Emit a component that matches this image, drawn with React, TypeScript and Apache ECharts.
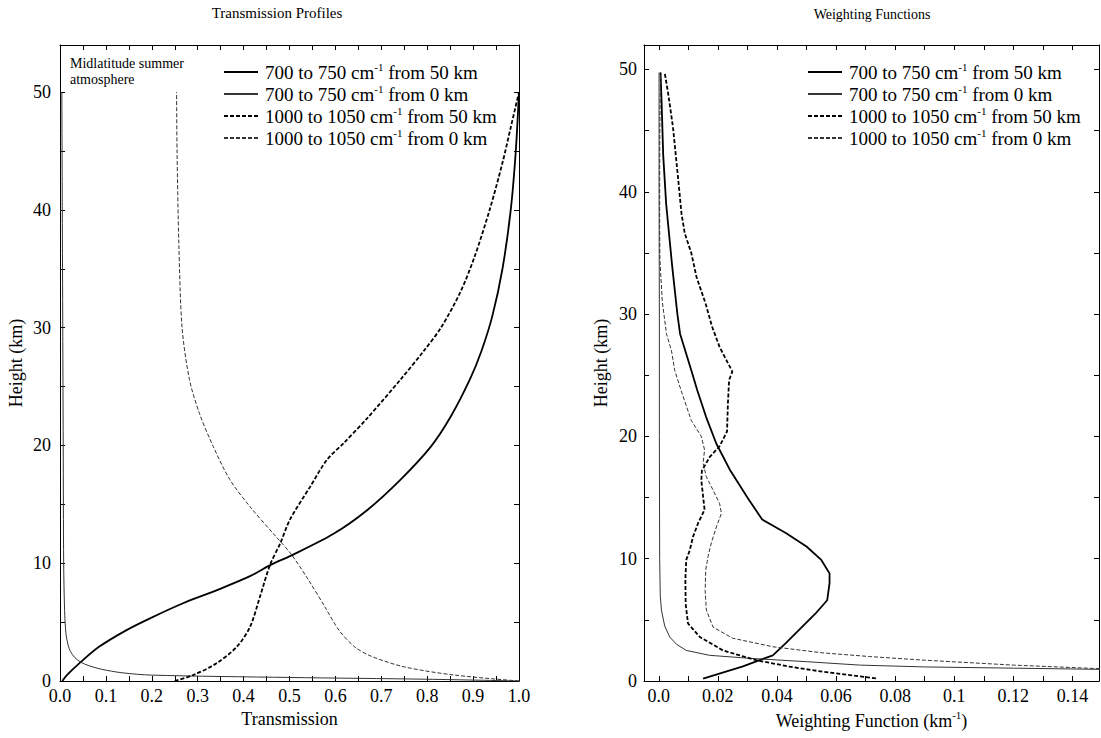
import React, { useEffect, useRef } from "react";
import * as echarts from "echarts";

const FONT = "'Liberation Serif', 'Times New Roman', Times, serif";

const seriesNames = [
  "700 to 750 cm-1 from 50 km",
  "700 to 750 cm-1 from 0 km",
  "1000 to 1050 cm-1 from 50 km",
  "1000 to 1050 cm-1 from 0 km",
];

// ---- Transmission profiles (left) ----
const tH1 = [0, 0.5, 1.5, 2.9, 4.3, 5.3, 6.6, 7.7, 8.9, 9.9, 10.6, 12.5, 14.5, 17.1, 19.9, 22.5, 25.6, 28, 31, 35, 40, 45, 50];
const tT1 = [0.005, 0.015, 0.042, 0.085, 0.144, 0.195, 0.268, 0.341, 0.414, 0.461, 0.501, 0.596, 0.669, 0.742, 0.808, 0.852, 0.893, 0.918, 0.942, 0.964, 0.982, 0.993, 1.0];

const tH2 = [0, 0.15, 0.3, 0.5, 0.7, 1.0, 1.3, 1.6, 2.0, 2.5, 3, 4, 6, 10, 20, 30, 40, 50];
const tT2 = [1.0, 0.8, 0.5, 0.2, 0.135, 0.09, 0.063, 0.045, 0.032, 0.023, 0.018, 0.013, 0.01, 0.008, 0.007, 0.006, 0.005, 0.004];

const tH3 = [0, 0.5, 1.5, 2.9, 4.6, 7.2, 9.9, 11.7, 13.7, 16.5, 18.8, 20.2, 22.3, 25.6, 28, 30, 33, 36, 40, 44, 47, 50];
const tT3 = [0.25, 0.29, 0.341, 0.385, 0.414, 0.436, 0.458, 0.48, 0.501, 0.545, 0.582, 0.618, 0.669, 0.742, 0.792, 0.83, 0.872, 0.903, 0.936, 0.964, 0.982, 1.0];

const tH4 = [0, 0.5, 1.2, 2.1, 2.9, 4.3, 6.3, 8.6, 10.8, 12.5, 14.8, 17.1, 19.9, 22.7, 25.6, 30, 37, 45, 50];
const tT4 = [1.0, 0.86, 0.75, 0.678, 0.642, 0.608, 0.577, 0.541, 0.503, 0.465, 0.414, 0.37, 0.334, 0.304, 0.282, 0.266, 0.259, 0.255, 0.254];

// ---- Weighting functions (right) ----
const wH1 = [0.2, 1.2, 2.1, 3.1, 4.3, 5.5, 6.6, 8.0, 8.8, 9.9, 11.0, 12.1, 13.2, 15.0, 17.3, 19.4, 21.6, 23.8, 25.4, 28.4, 30, 34, 39, 43, 47, 49.75];
const wW1 = [0.015, 0.0285, 0.0386, 0.043, 0.048, 0.053, 0.057, 0.0578, 0.0578, 0.055, 0.05, 0.043, 0.035, 0.03, 0.024, 0.0195, 0.016, 0.013, 0.011, 0.0072, 0.0063, 0.0045, 0.0025, 0.0015, 0.001, 0.0006];

const wH2 = [0.8, 0.95, 1.05, 1.15, 1.3, 1.58, 1.85, 2.1, 2.5, 3.0, 3.6, 4.5, 5.8, 7, 10, 20, 30, 40, 49.75];
const wW2 = [0.2, 0.15, 0.12, 0.09, 0.068, 0.05, 0.031, 0.0172, 0.0093, 0.006, 0.0037, 0.002, 0.0009, 0.0005, 0.0003, 0.0002, 0.0002, 0.0001, 0.0001];

const wH3 = [0.22, 0.76, 1.17, 1.7, 2.5, 3.6, 4.7, 6.3, 8.3, 9.9, 10.7, 11.8, 12.9, 14.0, 15.1, 16.4, 17.2, 18.3, 19.2, 20.4, 22.7, 24.6, 25.3, 27.3, 29, 30.9, 33, 35, 36.6, 38.2, 41.2, 45.3, 48, 49.75];
const wW3 = [0.0735, 0.0555, 0.0443, 0.033, 0.0217, 0.0139, 0.0099, 0.0091, 0.009, 0.0093, 0.0105, 0.0116, 0.0133, 0.0155, 0.015, 0.0144, 0.0146, 0.0172, 0.0206, 0.0231, 0.0234, 0.0238, 0.0249, 0.0206, 0.018, 0.0158, 0.0128, 0.011, 0.0088, 0.0077, 0.0065, 0.0048, 0.0032, 0.002];

const wH4 = [0.8, 1.0, 1.3, 1.7, 2.0, 2.3, 2.8, 3.5, 4.4, 5.8, 7.4, 9.1, 10.2, 11.3, 12.6, 13.7, 14.5, 15.6, 16.7, 17.8, 18.9, 20, 21.3, 23.8, 25.4, 27, 28.4, 31, 34.4, 37, 42, 46, 49.75];
const wW4 = [0.2, 0.15, 0.12, 0.09, 0.0713, 0.0555, 0.0386, 0.025, 0.0184, 0.0161, 0.0157, 0.0159, 0.0167, 0.0178, 0.0195, 0.0212, 0.0206, 0.0184, 0.0161, 0.015, 0.0155, 0.0144, 0.011, 0.0075, 0.0054, 0.0043, 0.0026, 0.0012, 0.0004, 0.0003, 0.0003, 0.0004, 0.0006];

// tick values
const rightXLabelValues = [0, 0.02, 0.04, 0.06, 0.08, 0.1, 0.12, 0.14];
const rightXTickValues = [0, 0.01, 0.02, 0.03, 0.04, 0.05, 0.06, 0.07, 0.08, 0.09, 0.1, 0.11, 0.12, 0.13, 0.14];

const zip = (xs: number[], ys: number[]) => xs.map((x, i) => [x, ys[i]]);

const lineStyles = [
  { width: 1.8, type: "solid" as const, color: "#000" },
  { width: 1, type: "solid" as const, color: "#333" },
  { width: 1.8, type: [4, 2], color: "#000" },
  { width: 1, type: [4, 2], color: "#333" },
];

export default function App() {
  const ref = useRef<HTMLDivElement>(null);
  useEffect(() => {
    if (!ref.current) return;
    const chart = echarts.init(ref.current, undefined, { renderer: "svg" });
    const axisLineStyle = { lineStyle: { color: "#000", width: 1 } };
    const tickStyle = { inside: true, length: 5, lineStyle: { color: "#000", width: 1 } };
    const labelStyle = { color: "#000", fontSize: 18, fontFamily: FONT };
    const nameStyle = { color: "#000", fontSize: 18, fontFamily: FONT };
    const supStyle = { fontSize: 11, lineHeight: 12, verticalAlign: "top", fontFamily: FONT, color: "#000" };
    const legendText = {
      color: "#000",
      fontSize: 19,
      fontFamily: FONT,
      lineHeight: 22,
      padding: [0, 0, 0, 2],
      rich: { sup: supStyle },
    };
    const fmtLegend = (n: string) => n.replace("cm-1", "cm{sup|-1}");
    const hiddenSymbol = { color: "rgba(0,0,0,0)", borderColor: "rgba(0,0,0,0)", borderWidth: 0, opacity: 0 };

    const leftData = [zip(tT1, tH1), zip(tT2, tH2), zip(tT3, tH3), zip(tT4, tH4)];
    const rightData = [zip(wW1, wH1), zip(wW2, wH2), zip(wW3, wH3), zip(wW4, wH4)];

    const series: any[] = [];
    leftData.forEach((d, i) =>
      series.push({
        type: "line",
        name: seriesNames[i],
        xAxisIndex: 0,
        yAxisIndex: 0,
        data: d,
        symbol: "none",
        smooth: 0.3,
        lineStyle: lineStyles[i],
        itemStyle: { color: lineStyles[i].color },
        clip: true,
      })
    );
    rightData.forEach((d, i) =>
      series.push({
        type: "line",
        name: seriesNames[i],
        xAxisIndex: 2,
        yAxisIndex: 2,
        data: d,
        symbol: "none",
        lineStyle: lineStyles[i],
        itemStyle: { color: lineStyles[i].color },
        clip: true,
      })
    );

    chart.setOption({
      animation: false,
      backgroundColor: "#fff",
      grid: [
        { left: 60, top: 45, width: 459, height: 636 },
        { left: 644, top: 45, width: 455, height: 636 },
      ],
      xAxis: [
        {
          type: "value", gridIndex: 0, position: "bottom", min: 0, max: 1, interval: 0.05,
          axisLine: { onZero: false, ...axisLineStyle }, axisTick: tickStyle, splitLine: { show: false },
          axisLabel: { ...labelStyle, margin: 6, formatter: (v: number) => (Math.abs(Math.round(v * 100)) % 10 === 0 ? v.toFixed(1) : "") },
          name: "Transmission", nameLocation: "middle", nameGap: 25, nameTextStyle: nameStyle,
        },
        {
          type: "value", gridIndex: 0, position: "top", min: 0, max: 1, interval: 0.05,
          axisLine: { onZero: false, ...axisLineStyle }, axisTick: tickStyle, splitLine: { show: false }, axisLabel: { show: false },
        },
        {
          type: "value", gridIndex: 1, position: "bottom", min: -0.005, max: 0.149,
          axisLine: { onZero: false, ...axisLineStyle },
          axisTick: { ...tickStyle, customValues: rightXTickValues }, splitLine: { show: false },
          axisLabel: {
            ...labelStyle, margin: 6, customValues: rightXLabelValues,
            formatter: (v: number) => (v === 0 ? "0.0" : String(parseFloat(v.toFixed(2)))),
          },
          name: "Weighting Function (km{sup|-1})", nameLocation: "middle", nameGap: 23,
          nameTextStyle: { ...nameStyle, lineHeight: 22, rich: { sup: supStyle } },
        },
        {
          type: "value", gridIndex: 1, position: "top", min: -0.005, max: 0.149,
          axisLine: { onZero: false, ...axisLineStyle },
          axisTick: { ...tickStyle, customValues: rightXTickValues }, splitLine: { show: false }, axisLabel: { show: false },
        },
      ],
      yAxis: [
        {
          type: "value", gridIndex: 0, position: "left", min: 0, max: 54, interval: 5,
          axisLine: { onZero: false, ...axisLineStyle }, axisTick: tickStyle, splitLine: { show: false },
          axisLabel: { ...labelStyle, margin: 9, formatter: (v: number) => (v % 10 === 0 && v <= 50 ? String(v) : "") },
          name: "Height (km)", nameLocation: "middle", nameGap: 35, nameTextStyle: nameStyle,
        },
        {
          type: "value", gridIndex: 0, position: "right", min: 0, max: 54, interval: 5,
          axisLine: { onZero: false, ...axisLineStyle }, axisTick: tickStyle, splitLine: { show: false }, axisLabel: { show: false },
        },
        {
          type: "value", gridIndex: 1, position: "left", min: 0, max: 52, interval: 5,
          axisLine: { onZero: false, ...axisLineStyle }, axisTick: tickStyle, splitLine: { show: false },
          axisLabel: { ...labelStyle, margin: 7, formatter: (v: number) => (v % 10 === 0 && v <= 50 ? String(v) : "") },
          name: "Height (km)", nameLocation: "middle", nameGap: 34, nameTextStyle: nameStyle,
        },
        {
          type: "value", gridIndex: 1, position: "right", min: 0, max: 52, interval: 5,
          axisLine: { onZero: false, ...axisLineStyle }, axisTick: tickStyle, splitLine: { show: false }, axisLabel: { show: false },
        },
      ],
      legend: [
        {
          left: 223, top: 61, orient: "vertical", padding: 0, itemGap: 0, itemWidth: 34, itemHeight: 12,
          data: seriesNames, formatter: fmtLegend, textStyle: legendText, selectedMode: false, itemStyle: hiddenSymbol,
        },
        {
          left: 807, top: 61, orient: "vertical", padding: 0, itemGap: 0, itemWidth: 34, itemHeight: 12,
          data: seriesNames, formatter: fmtLegend, textStyle: legendText, selectedMode: false, itemStyle: hiddenSymbol,
        },
      ],
      graphic: [
        {
          type: "text", x: 277, y: 13,
          style: { text: "Transmission Profiles", fill: "#000", font: `15px ${FONT}`, align: "center", verticalAlign: "middle" },
        },
        {
          type: "text", x: 872, y: 14,
          style: { text: "Weighting Functions", fill: "#000", font: `14px ${FONT}`, align: "center", verticalAlign: "middle" },
        },
        {
          type: "text", x: 70, y: 55,
          style: { text: "Midlatitude summer\natmosphere", fill: "#000", font: `14px ${FONT}`, lineHeight: 16, align: "left", verticalAlign: "top" },
        },
      ],
      series,
    });
    return () => chart.dispose();
  }, []);
  return <div ref={ref} style={{ position: "absolute", left: 0, top: 0, width: 1101, height: 738 }} />;
}
